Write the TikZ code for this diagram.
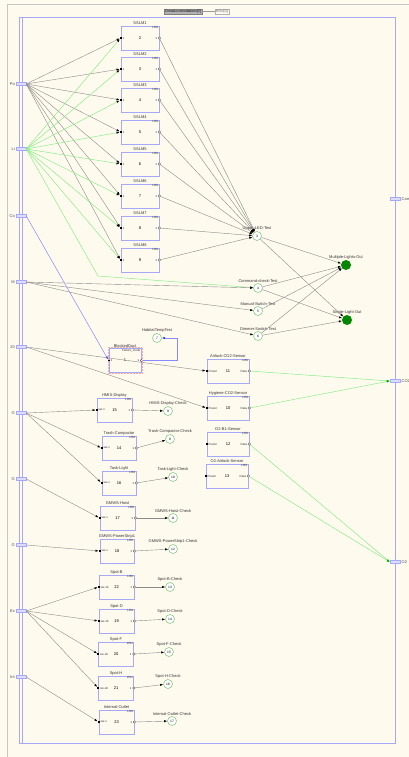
\documentclass[tikz,border=0pt]{standalone}
\usepackage{fontspec}
\setmainfont{Liberation Sans}
\usetikzlibrary{arrows.meta}
\definecolor{bg}{HTML}{FFFAEE}
\definecolor{frm}{HTML}{A8A8F8}
\definecolor{ln}{HTML}{8A8A8A}
\definecolor{gr}{HTML}{88EE88}
\definecolor{bl}{HTML}{8888FF}
\definecolor{cg}{HTML}{88CC88}
\definecolor{dg}{HTML}{008800}
\newcommand{\lbox}[9]{%
 \node[lru, minimum width=#4pt, label={[ttl]above:#5}] (#1) at (#2,#3) {#6};
 \node[tiny, anchor=north east] at ([xshift=-0.5pt,yshift=-0.5pt]#1.north east) {#9};
 \node[inport] (#1-i) at (#1.west) {};
 \node[tiny, anchor=west] at ([xshift=1.5pt]#1.west) {#7};
 \node[outport] (#1-o) at (#1.east) {};
 \node[tiny, anchor=east] at ([xshift=-1.8pt]#1.east) {#8};
}
\begin{document}
\begin{tikzpicture}[x=1pt,y=-1pt,
  font=\fontsize{4}{4.5}\selectfont,
  lru/.style={draw=frm, line width=0.7pt, fill=bg, minimum height=24pt, inner sep=0pt},
  ttl/.style={inner sep=0.5pt, font=\fontsize{4}{4.5}\selectfont, text=black!80},
  tiny/.style={inner sep=0.3pt, font=\fontsize{3}{3.5}\selectfont, text=black!80},
  inport/.style={fill=black, rectangle, minimum size=1.8pt, inner sep=0pt},
  outport/.style={draw=black!70, fill=white, circle, minimum size=2.4pt, inner sep=0pt, line width=0.3pt},
  tst/.style={circle, draw=cg, line width=0.6pt, fill=white, minimum size=9pt, inner sep=0pt, font=\fontsize{3.3}{3.5}\selectfont},
  flt/.style={circle, fill=dg, minimum size=10pt, inner sep=0pt, font=\fontsize{3.3}{3.5}\selectfont, text=black!70},
  port/.style={draw=frm, fill=frm!40, minimum width=10pt, minimum height=3pt, inner sep=0pt, line width=0.5pt},
  plbl/.style={inner sep=0.5pt, font=\fontsize{4}{4.5}\selectfont, text=black!70},
  e/.style={draw=ln, line width=0.4pt, -{Latex[color=black,length=3pt,width=2.2pt]}},
  eg/.style={draw=gr, line width=0.5pt, -{Latex[color=black,length=3pt,width=2.2pt]}},
  egd/.style={draw=gr, line width=0.5pt, -{Latex[color=green!70!black,length=3pt,width=2.2pt]}},
  eb/.style={draw=bl, line width=0.5pt, -{Latex[color=blue!80,length=3pt,width=2.2pt]}}
]
\useasboundingbox (0,0) rectangle (409,757);
\fill[bg] (0,0) rectangle (409,757);
% outer grey lines
\draw[black!22, line width=0.6pt] (7,757) -- (7,4) -- (409,4);
% title
\node[draw=black!50, fill=black!30, inner sep=1pt, font=\fontsize{3.5}{4}\selectfont] (title) at (183,11.5) {CrewAccomodations[5]};
\node[draw=black!30, fill=bg, inner sep=1pt, font=\fontsize{3.5}{4}\selectfont, text=black!60] (hdu) at (222,11.5) {HDU[U]};
\draw[black!40, line width=0.3pt] (title.east) -- (hdu.west);
% frame
\draw[frm, line width=0.7pt] (19.5,17) rectangle (395,743);
\draw[frm, line width=0.7pt] (22,17) -- (22,743);
\draw[frm, line width=1.4pt] (395.5,17) -- (395.5,743);

% left ports
\foreach \n/\t/\yy in {Po/Po/84, Li/Li/149, Co/Co/216, M/M/282, T/20/347, Ga/G/413, Gb/G/479, Gc/G/545, Ev/Ev/611, In/Int/677}{
  \node[port] (p\n) at (21,\yy) {};
  \node[plbl, anchor=east] at (15.5,\yy) {\t};
}
% right ports
\foreach \n/\t/\yy in {Cam/Cam/199, CO/CO2/381, Ox/O2/562}{
  \node[port] (p\n) at (395,\yy) {};
  \node[plbl, anchor=west] at (401,\yy) {\t};
}

% SSLM boxes
\lbox{s1}{140}{38}{38}{SSLM1}{2}{1}{1}{LRU}
\lbox{s2}{140}{69}{38}{SSLM2}{3}{1}{1}{LRU}
\lbox{s3}{140}{100}{38}{SSLM3}{4}{1}{1}{LRU}
\lbox{s4}{140}{132}{38}{SSLM4}{5}{1}{1}{LRU}
\lbox{s5}{140}{164}{38}{SSLM5}{6}{1}{1}{LRU}
\lbox{s6}{140}{196}{38}{SSLM6}{7}{1}{1}{LRU}
\lbox{s7}{140}{228}{38}{SSLM7}{8}{1}{1}{LRU}
\lbox{s8}{140}{260}{38}{SSLM8}{9}{1}{1}{LRU}

% sensors
\lbox{aco}{228}{371}{42}{Airlock-CO2-Sensor}{11}{Power}{Data}{LRU}
\lbox{hco}{228}{408}{42}{Hygiene-CO2-Sensor}{10}{Power}{Data}{LRU}
\lbox{ob}{228}{444}{42}{O2-B1-Sensor}{12}{Power}{Data}{LRU}
\lbox{oa}{227}{476}{42}{O2-Airlock-Sensor}{13}{Power}{Data}{LRU}

% blocked duct
\lbox{bd}{125}{360.5}{32}{BlockedDuct}{1}{1}{1}{Failure\_mode}
\draw[red!35, densely dotted, line width=0.5pt] ([shift={(-0.7pt,0.7pt)}]bd.north west) rectangle ([shift={(0.7pt,-0.7pt)}]bd.south east);

% loads
\lbox{hmis}{114.5}{410}{35}{HMIS-Display}{15}{sw-v}{1}{LRU}
\lbox{trash}{119}{448}{34}{Trash-Compactor}{14}{sw-v}{1}{LRU}
\lbox{task}{119}{483}{34}{Task-Light}{16}{sw-v}{1}{LRU}
\lbox{hoist}{117.5}{518}{35}{GMWS-Hoist}{17}{sw-v}{1}{LRU}
\lbox{pstr}{117}{551}{34}{GMWS-PowerStrip1}{18}{sw-v}{1}{LRU}
\lbox{spb}{116.5}{587}{35}{Spot-B}{22}{sw-vb}{1}{LRU}
\lbox{spd}{116.5}{621}{35}{Spot-D}{19}{sw-vb}{1}{LRU}
\lbox{spf}{116}{654}{35}{Spot-F}{20}{sw-vb}{1}{LRU}
\lbox{sph}{116}{688}{35}{Spot-H}{21}{sw-vb}{1}{LRU}
\lbox{iout}{116.5}{722}{35}{Internal-Outlet}{23}{sw-v}{1}{LRU}

% check circles
\node[tst, label={[ttl]above:HMIS-Display-Check}] (c9) at (168,411) {9};
\node[tst, label={[ttl]above:Trash-Compactor-Check}] (c8) at (170,439) {8};
\node[tst, label={[ttl]above:Task-Light-Check}] (c10) at (173,477) {10};
\node[tst, label={[ttl]above:GMWS-Hoist-Check}] (c11) at (173,518) {11};
\node[tst, label={[ttl]above:GMWS-PowerStrip1-Check}] (c12) at (173,549) {12};
\node[tst, label={[ttl]above:Spot-B-Check}] (c13) at (170,587) {13};
\node[tst, label={[ttl]above:Spot-D-Check}] (c14) at (170,619) {14};
\node[tst, label={[ttl]above:Spot-F-Check}] (c15) at (169,652) {15};
\node[tst, label={[ttl]above:Spot-H-Check}] (c16) at (168,684) {16};
\node[tst, label={[ttl]above:Internal-Outlet-Check}] (c17) at (172,721) {17};

% tests and faults
\node[tst, label={[ttl]above:Upper-LED-Test}] (tU) at (257,236) {3};
\node[tst, label={[ttl]above:Command-check-Test}] (tC) at (258,288) {4};
\node[tst, label={[ttl]above:Manual-Switch-Test}] (tM) at (258,311) {5};
\node[tst, label={[ttl]above:Dimmer-Switch-Test}] (tD) at (258,336) {6};
\node[tst, label={[ttl]above:HabitatTempTest}] (tH) at (157,338) {7};
\node[flt, label={[ttl]above:Multiple-Lights-Out}] (fM) at (346,265) {1};
\node[flt, label={[ttl]above:Single-Light-Out}] (fS) at (347,320) {2};

\coordinate (bendLi) at (98,276);

% edges
\foreach \i in {1,...,8} {\draw[e] (pPo.east) -- (s\i-i);}
\foreach \i in {1,...,8} {\draw[eg] (pLi.east) -- (s\i-i);}
\draw[eg] (pLi.east) -- (bendLi) -- (tC);
\draw[e] (pM.east) -- (tC);
\draw[e] (pM.east) -- (tM);
\draw[e] (pM.east) -- (tD);
\draw[eb] (pCo.east) -- (bd-i);
\draw[e] (pT.east) -- (aco-i);
\draw[e] (pT.east) -- (hco-i);
\draw[eb] (bd-o) -- ++(36,0) |- (tH);
\foreach \i in {1,...,8} {\draw[e] (s\i-o) -- (tU);}
\draw[e] (tU) -- (fM);
\draw[e] (tU) -- (fS);
\draw[e] (tC) -- (fM);
\draw[e] (tC) -- (fS);
\draw[e] (tM) -- (fM);
\draw[e] (tD) -- (fM);
\draw[e] (tD) -- (fS);
\draw[egd] (aco-o) -- (pCO.west);
\draw[egd] (hco-o) -- (pCO.west);
\draw[egd] (ob-o) -- (pOx.west);
\draw[egd] (oa-o) -- (pOx.west);
\draw[e] (pGa.east) -- (hmis-i);
\draw[e] (pGa.east) -- (trash-i);
\draw[e] (pGa.east) -- (task-i);
\draw[e] (pGb.east) -- (hoist-i);
\draw[e] (pGc.east) -- (pstr-i);
\draw[e] (pEv.east) -- (spb-i);
\draw[e] (pEv.east) -- (spd-i);
\draw[e] (pEv.east) -- (spf-i);
\draw[e] (pEv.east) -- (sph-i);
\draw[e] (pIn.east) -- (iout-i);
\draw[e] (hmis-o) -- (c9);
\draw[e] (trash-o) -- (c8);
\draw[e] (task-o) -- (c10);
\draw[e] (hoist-o) -- (c11);
\draw[e] (pstr-o) -- (c12);
\draw[e] (spb-o) -- (c13);
\draw[e] (spd-o) -- (c14);
\draw[e] (spf-o) -- (c15);
\draw[e] (sph-o) -- (c16);
\draw[e] (iout-o) -- (c17);
\end{tikzpicture}
\end{document}
